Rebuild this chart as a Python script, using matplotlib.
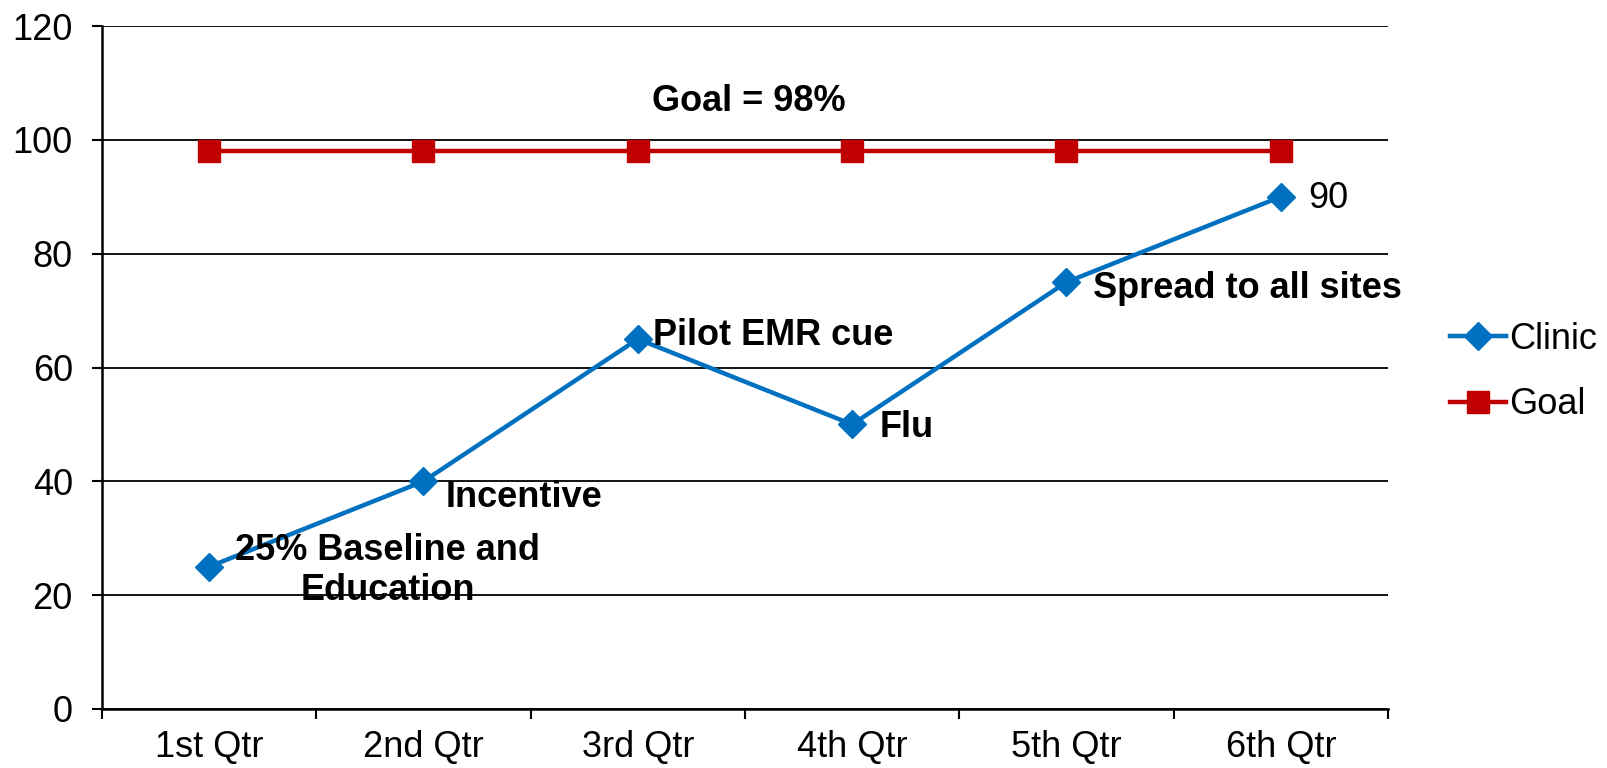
import matplotlib
matplotlib.use("Agg")
import matplotlib.pyplot as plt
from matplotlib.ticker import FixedLocator, NullFormatter

plt.rcParams['font.family'] = ['Liberation Sans', 'DejaVu Sans']

quarters = ["1st Qtr", "2nd Qtr", "3rd Qtr", "4th Qtr", "5th Qtr", "6th Qtr"]
clinic = [25, 40, 65, 50, 75, 90]
goal = [98, 98, 98, 98, 98, 98]
y_ticks = [0, 20, 40, 60, 80, 100, 120]

# milestone notes beside each clinic point: (text, dx px, dy px)
notes = [
    ("25% Baseline and\nEducation", 26, -4),
    ("Incentive", 22, -16),
    ("Pilot EMR cue", 15, 4),
    ("Flu", 27, -3),
    ("Spread to all sites", 27, -6),
]
goal_text = "Goal = 98%"

BLUE = "#0070C0"
RED = "#C00000"
PX = 0.72  # points per pixel at dpi=100
FS = 26

fig = plt.figure(figsize=(16.08, 7.68), dpi=100)
ax = fig.add_axes([102 / 1608, 1 - 709 / 768, (1388 - 102) / 1608, (709 - 26) / 768])

x = list(range(len(quarters)))
ax.set_xlim(-0.5, len(quarters) - 0.5)
ax.set_ylim(0, 120)
ax.set_yticks(y_ticks)
ax.yaxis.grid(True, color="black", linewidth=1.3)
ax.set_axisbelow(True)

ax.plot(x, goal, color=RED, linewidth=3.2, marker="s", markersize=16,
        label="Goal", zorder=3)
ax.plot(x, clinic, color=BLUE, linewidth=3.2, marker="D", markersize=14,
        label="Clinic", zorder=4)

# category ticks sit between the quarters, labels at the centers
ax.xaxis.set_major_locator(FixedLocator([i - 0.5 for i in range(len(quarters) + 1)]))
ax.xaxis.set_major_formatter(NullFormatter())
ax.xaxis.set_minor_locator(FixedLocator(x))
ax.set_xticklabels(quarters, minor=True)
ax.tick_params(axis="x", which="major", length=7, width=1.5, direction="out")
ax.tick_params(axis="x", which="minor", length=0, labelsize=FS, pad=15)
ax.tick_params(axis="y", length=7, width=1.5, direction="out", labelsize=FS, pad=14)

for side in ("top", "right"):
    ax.spines[side].set_visible(False)
for side in ("left", "bottom"):
    ax.spines[side].set_linewidth(1.8)

for (text, dx, dy), xi, yi in zip(notes, x, clinic):
    ax.annotate(text, (xi, yi), xytext=(dx * PX, dy * PX), textcoords="offset points",
                ha="left", va="center", multialignment="center",
                fontsize=FS, fontweight="bold", zorder=5)

ax.annotate(str(clinic[-1]), (x[-1], clinic[-1]), xytext=(27 * PX, -2 * PX),
            textcoords="offset points", ha="left", va="center", fontsize=FS, zorder=5)

ax.annotate(goal_text, (2.5, goal[0]), xytext=(4 * PX, 50 * PX),
            textcoords="offset points", ha="center", va="center",
            fontsize=FS, fontweight="bold")

handles, labels = ax.get_legend_handles_labels()
fig.legend(handles[::-1], labels[::-1], loc="center left",
           bbox_to_anchor=(1450 / 1608, 1 - 372 / 768), frameon=False,
           fontsize=FS, handlelength=1.55, handletextpad=0.1, labelspacing=0.85,
           borderpad=0, borderaxespad=0)

fig.savefig("out.png", dpi=100)
